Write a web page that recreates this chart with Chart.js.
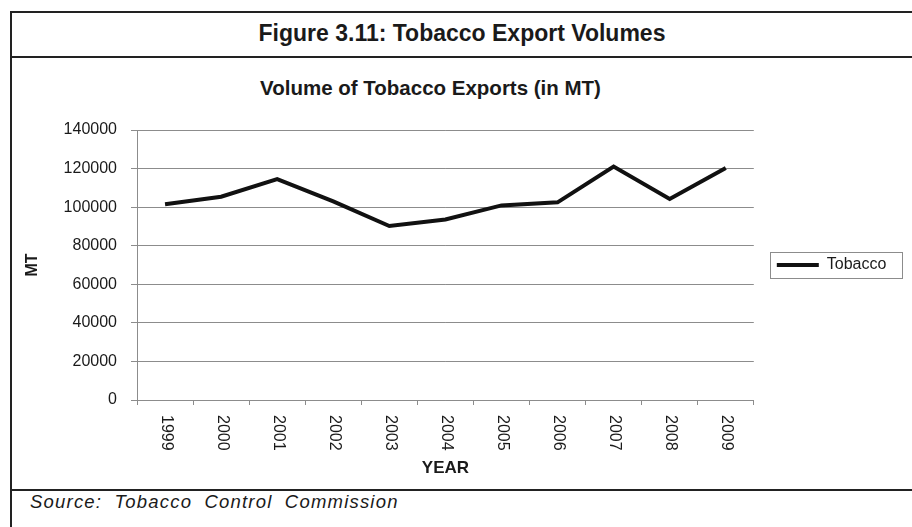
<!DOCTYPE html>
<html>
<head>
<meta charset="utf-8">
<script src="https://cdn.jsdelivr.net/npm/chart.js@4.4.1/dist/chart.umd.min.js"></script>
<style>
    body { margin: 0; background: #fff; color: #1a1a1a; font-family: "Liberation Sans", Arial, sans-serif; }
    .quadro { position: absolute; left: 10px; top: 11px; width: 930px; height: 540px; border: 2px solid #222; }
    .divisor { position: absolute; left: 10px; width: 934px; height: 2px; background: #222; }
    .tituloFigura { position: absolute; left: 0; width: 924px; top: 22px; text-align: center; font-weight: bold; font-size: 23px; line-height: 23px; }
    .tituloGrafico { position: absolute; left: 0; width: 861px; top: 78px; text-align: center; font-weight: bold; font-size: 20.5px; line-height: 20.5px; }
    .fonte { position: absolute; left: 30px; top: 493px; font-style: italic; font-size: 18.5px; line-height: 18px; letter-spacing: 1.2px; word-spacing: 6px; white-space: nowrap; }
    .caixaGrafico { position: absolute; left: 12px; top: 58px; width: 900px; height: 431px; }
</style>
</head>
<body>
<div class="quadro"></div>
<div class="divisor" style="top: 56px"></div>
<div class="divisor" style="top: 489px"></div>
<div class="tituloFigura">Figure 3.11: Tobacco Export Volumes</div>
<div class="tituloGrafico">Volume of Tobacco Exports (in MT)</div>
<div class="caixaGrafico"><canvas id="graficoTabaco" width="900" height="431"></canvas></div>
<div class="fonte">Source: Tobacco Control Commission</div>

<script>
// dados
const anos = ['1999', '2000', '2001', '2002', '2003', '2004', '2005', '2006', '2007', '2008', '2009'];
const volumesTabaco = [101500, 105400, 114500, 103000, 90200, 93600, 100900, 102500, 121000, 104200, 120300];
const marcasY = [0, 20000, 40000, 60000, 80000, 100000, 120000, 140000];

const corTexto = '#1a1a1a';
const corGrade = '#8c8c8c';
const fonte = '"Liberation Sans", Arial, sans-serif';

// rotulos do eixo x girados para baixo (sentido horario)
const rotuloAnosPlugin = {
    id: 'rotuloAnos',
    afterDraw(chart) {
        const escalaX = chart.scales.x;
        const ctx = chart.ctx;
        ctx.save();
        ctx.font = `16px ${fonte}`;
        ctx.fillStyle = corTexto;
        ctx.textAlign = 'left';
        ctx.textBaseline = 'middle';
        chart.data.labels.forEach((ano, i) => {
            const x = escalaX.getPixelForTick(i);
            ctx.save();
            ctx.translate(x + 1, escalaX.top + 15);
            ctx.rotate(Math.PI / 2);
            ctx.fillText(ano, 0, 0);
            ctx.restore();
        });
        ctx.restore();
    }
};

// moldura da legenda
const bordaLegendaPlugin = {
    id: 'bordaLegenda',
    afterDraw(chart) {
        const hb = chart.legend.legendHitBoxes[0];
        if (!hb) return;
        const ctx = chart.ctx;
        ctx.save();
        ctx.strokeStyle = corGrade;
        ctx.lineWidth = 1;
        ctx.strokeRect(Math.round(hb.left - 7) + 0.5, Math.round(hb.top + hb.height / 2 - 13) + 0.5, Math.round(hb.width + 22), 26);
        ctx.restore();
    }
};

function construirGraficoTabaco(htmlCanvas) {

    let data = {
        labels: anos,
        datasets: [{
            label: 'Tobacco',
            data: volumesTabaco,
            borderColor: '#111',
            backgroundColor: '#111',
            borderWidth: 4,
            pointRadius: 0,
            pointHoverRadius: 0,
            pointStyle: 'line',
            tension: 0,
            fill: false
        }]
    }

    let options = {
        responsive: false,
        animation: false,
        layout: {
            padding: { top: 72, right: 15.6, bottom: 0, left: 0 }
        },
        scales: {
            x: {
                offset: true,
                grid: {
                    display: true,
                    drawOnChartArea: false,
                    offset: true,
                    color: corGrade,
                    tickLength: 5
                },
                border: { color: corGrade },
                ticks: { display: false },
                title: {
                    display: true,
                    text: 'YEAR',
                    color: corTexto,
                    font: { family: fonte, size: 17, weight: 'bold' },
                    padding: { top: 0, bottom: 10 }
                },
                afterFit(scale) { scale.height = 89; }
            },
            y: {
                min: 0,
                max: 140000,
                afterBuildTicks(scale) { scale.ticks = marcasY.map((v) => ({ value: v })); },
                ticks: {
                    padding: 14,
                    color: corTexto,
                    font: { family: fonte, size: 16 },
                    callback: (valor) => String(valor)
                },
                grid: {
                    color: corGrade,
                    tickLength: 6
                },
                border: { color: corGrade },
                title: {
                    display: true,
                    text: 'MT',
                    color: corTexto,
                    font: { family: fonte, size: 16, weight: 'bold' },
                    padding: { top: 11, bottom: 0 }
                },
                afterFit(scale) { scale.width = 125; }
            }
        },
        plugins: {
            title: { display: false },
            tooltip: { enabled: false },
            legend: {
                position: 'right',
                fullSize: false,
                labels: {
                    usePointStyle: true,
                    pointStyle: 'line',
                    pointStyleWidth: 42,
                    padding: 23,
                    color: corTexto,
                    font: { family: fonte, size: 16 }
                }
            }
        }
    }

    return new Chart(htmlCanvas, {
        type: 'line',
        data: data,
        options: options,
        plugins: [rotuloAnosPlugin, bordaLegendaPlugin]
    });
}

construirGraficoTabaco(document.getElementById('graficoTabaco'));
</script>
</body>
</html>
